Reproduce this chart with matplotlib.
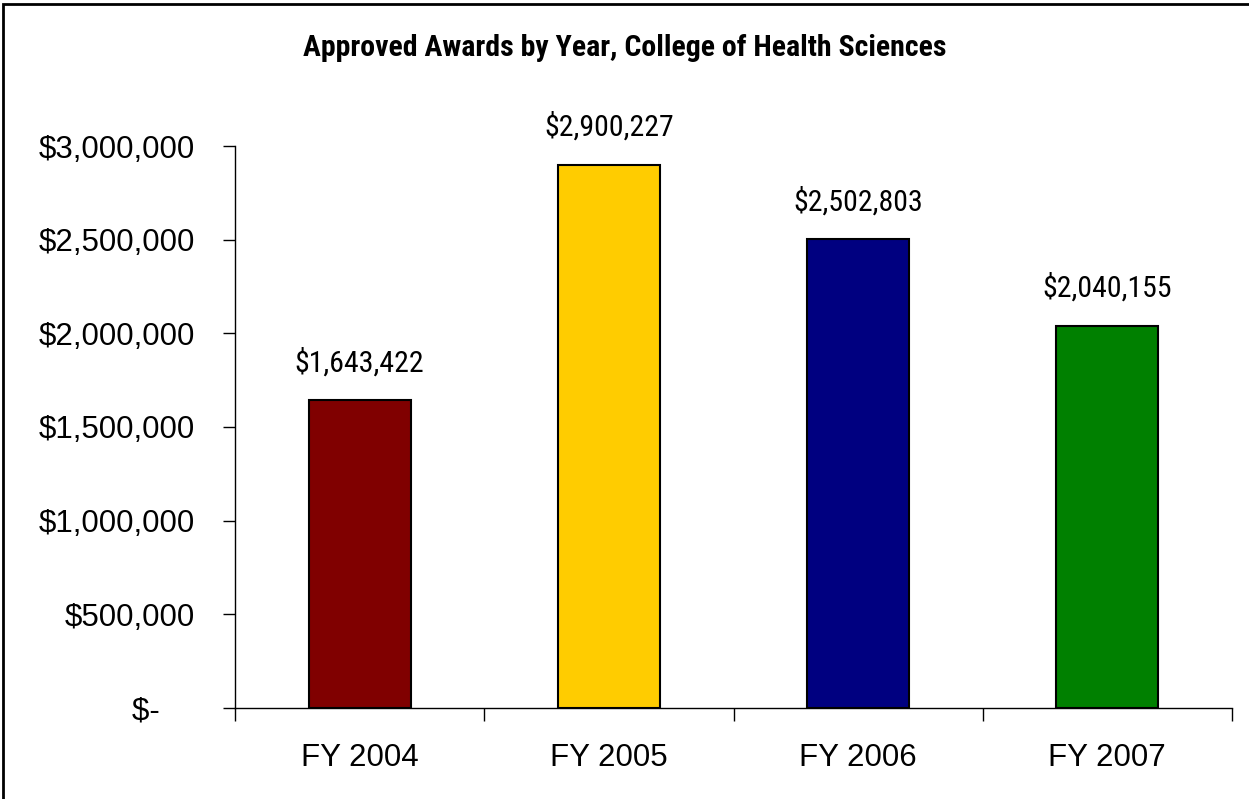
import matplotlib
matplotlib.use('Agg')
import matplotlib.pyplot as plt
from matplotlib.patches import Rectangle

years = ['FY 2004', 'FY 2005', 'FY 2006', 'FY 2007']
awards = [1643422, 2900227, 2502803, 2040155]
colors = ['#800000', '#FFCC00', '#000080', '#008000']
yticks = [0, 500000, 1000000, 1500000, 2000000, 2500000, 3000000]

narrow = ['Liberation Sans Narrow', 'Arial Narrow', 'Roboto Condensed', 'Liberation Sans', 'DejaVu Sans']
plain = ['Liberation Sans', 'Arial', 'DejaVu Sans']

W, H = 1249, 799
fig = plt.figure(figsize=(W / 100, H / 100), dpi=100)
ax = fig.add_axes([235 / W, 1 - 708 / H, (1232 - 235) / W, (708 - 146) / H])

x = list(range(len(years)))
ax.bar(x, awards, width=0.41, color=colors, edgecolor='black', linewidth=1.5, zorder=2)

for xi, v in zip(x, awards):
    ax.annotate(f'${v:,}', (xi, v), xytext=(0, 27), textcoords='offset points',
                ha='center', va='center', fontsize=21.5, family=narrow)

ax.set_xlim(-0.5, len(years) - 0.5)
ax.set_ylim(0, 3000000)
ax.set_yticks(yticks)
# accounting style zero: "$-" followed by padding
ax.set_yticklabels(['$-    ' if t == 0 else f'${t:,}' for t in yticks], family=plain, fontsize=22.5)
ax.yaxis.set_tick_params(length=9, width=1, pad=20)

# category ticks sit at the boundaries, labels in the centre
ax.set_xticks([i - 0.5 for i in range(len(years) + 1)])
ax.set_xticklabels([])
ax.set_xticks(x, minor=True)
ax.set_xticklabels(years, minor=True, family=plain, fontsize=22.5)
ax.tick_params(axis='x', which='major', length=9, width=1)
ax.tick_params(axis='x', which='minor', length=0, pad=25)

for s in ('top', 'right'):
    ax.spines[s].set_visible(False)
for s in ('left', 'bottom'):
    ax.spines[s].set_linewidth(1)

fig.text(0.5, 1 - 48 / H, 'Approved Awards by Year, College of Health Sciences',
         ha='center', va='center', fontsize=21.5, fontweight='bold', family=narrow)

# outer frame: only the top and left edges fall inside the picture
fig.patches.append(Rectangle((3 / W, -0.5), 1.5, 1.5 - 3.5 / H, transform=fig.transFigure,
                             fill=False, edgecolor='black', linewidth=2))

fig.savefig('out.png', dpi=100)
